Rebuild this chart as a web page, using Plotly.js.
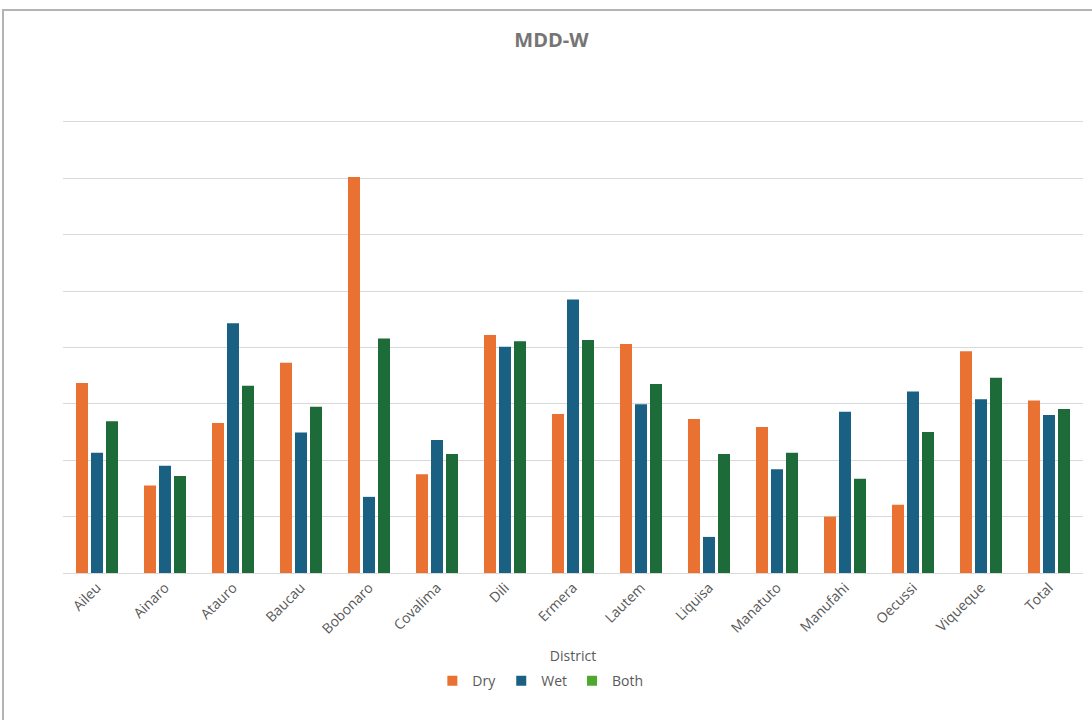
<!DOCTYPE html>
<html>
<head>
<meta charset="utf-8">
<script src="https://cdn.plot.ly/plotly-3.0.1.min.js"></script>
<style>
html,body{margin:0;padding:0;background:#fff;}
#frame{position:absolute;left:2px;top:9px;width:1200px;height:800px;border-left:2px solid #b4b4b4;border-top:2px solid #b4b4b4;box-sizing:border-box;pointer-events:none;z-index:5;}
#chart{position:absolute;left:0;top:0;width:1092px;height:720px;}
</style>
</head>
<body>
<div id="chart"></div>
<div id="frame"></div>
<script>
var districts = ["Aileu","Ainaro","Atauro","Baucau","Bobonaro","Covalima","Dili","Ermera","Lautem","Liquisa","Manatuto","Manufahi","Oecussi","Viqueque","Total"];
var dry  = [33.7, 15.5, 26.6, 37.3, 70.2, 17.5, 42.2, 28.2, 40.6, 27.3, 25.9, 10.0, 12.1, 39.3, 30.6];
var wet  = [21.3, 19.0, 44.3, 24.9, 13.5, 23.6, 40.1, 48.5, 29.9,  6.4, 18.4, 28.6, 32.2, 30.8, 28.0];
var both = [26.9, 17.2, 33.2, 29.5, 41.6, 21.1, 41.1, 41.3, 33.5, 21.1, 21.3, 16.7, 25.0, 34.6, 29.1];
var seriesNames = ["Dry","Wet","Both"];

var barColors = ["#E97132","#196082","#1E6B3A"];
var legendColors = ["#E97132","#196082","#4EA72E"];
var font = "'Open Sans', 'Noto Sans', sans-serif";

var vals = [dry, wet, both];
var traces = [];
for (var i = 0; i < 3; i++) {
  traces.push({
    type: "bar", name: seriesNames[i], x: districts, y: vals[i],
    marker: {color: barColors[i]}, showlegend: false, hoverinfo: "x+y+name"
  });
}
for (var j = 0; j < 3; j++) {
  traces.push({
    type: "scatter", mode: "markers", name: seriesNames[j], x: [null], y: [null],
    marker: {symbol: "square", size: 10, color: legendColors[j]}, showlegend: true
  });
}

var layout = {
  width: 1092, height: 720,
  paper_bgcolor: "#ffffff", plot_bgcolor: "#ffffff",
  margin: {l: 63, r: 9, t: 118.9, b: 146.7},
  font: {family: font, color: "#595959"},
  title: {text: "<b>MDD-W</b>", x: 0.505, xref: "container", xanchor: "center",
          y: 0.945, yref: "container", yanchor: "middle",
          font: {size: 20, color: "#757575", family: font}},
  barmode: "group", bargap: 0.338, bargroupgap: 0.2,
  xaxis: {
    type: "category", tickangle: -45, tickfont: {size: 14, color: "#595959"},
    showline: true, linecolor: "#d9d9d9", linewidth: 1, ticks: "",
    showgrid: false, automargin: false,
    title: {text: "District", font: {size: 14, color: "#595959"}, standoff: 14}
  },
  yaxis: {
    range: [0, 80.5], dtick: 10, showticklabels: false, ticks: "",
    showgrid: true, gridcolor: "#d9d9d9", gridwidth: 1, zeroline: false,
    showline: false, automargin: false, fixedrange: true
  },
  legend: {orientation: "h", x: 0.468, xanchor: "center", y: -0.238, yanchor: "middle",
           font: {size: 14, color: "#595959"}, itemwidth: 30, tracegroupgap: 0},
  showlegend: true
};

Plotly.newPlot("chart", traces, layout, {displayModeBar: false, staticPlot: true});
</script>
</body>
</html>
